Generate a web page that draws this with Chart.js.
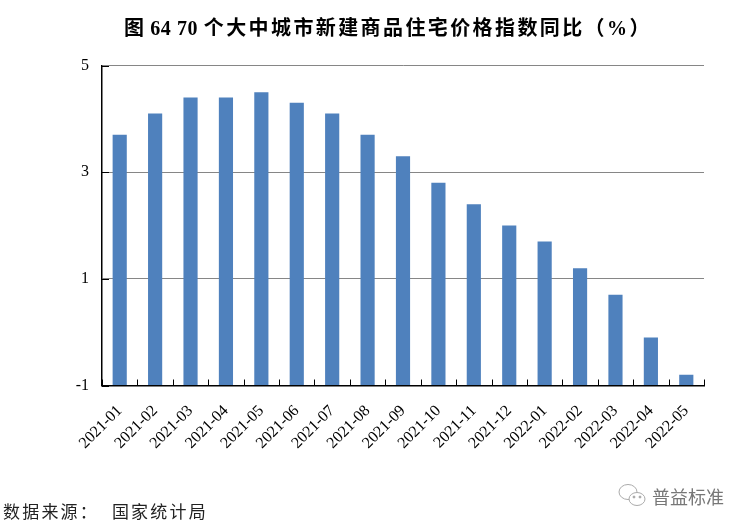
<!DOCTYPE html>
<html lang="zh-CN">
<head>
    <meta charset="UTF-8">
    <title>70个大中城市新建商品住宅价格指数同比</title>
    <script src="https://cdn.jsdelivr.net/npm/chart.js"></script>
    <style>
        html, body { margin: 0; padding: 0; background: #fff; }
        #wrap { position: relative; width: 747px; height: 528px; overflow: hidden; }
        #title { position: absolute; left: 124px; top: 12px; font: bold 20px "Liberation Serif", "Noto Sans CJK SC"; letter-spacing: 2.4px; color: #000; white-space: pre; }
        #title span { letter-spacing: 0.6px; }
        #source { position: absolute; left: 3px; top: 498px; font: 17px "Liberation Serif", "Noto Sans CJK SC"; letter-spacing: 2.2px; color: #222; white-space: pre; }
        #mark { position: absolute; left: 652px; top: 483px; font: 18px "Noto Sans CJK SC"; color: #777; }
        #icon { position: absolute; left: 617px; top: 483px; }
    </style>
</head>
<body>
    <div id="wrap">
        <canvas id="chart" width="747" height="528"></canvas>
        <div id="title"><span>图 64 70 </span>个大中城市新建商品住宅价格指数同比（%）</div>
        <div id="source">数据来源：  国家统计局</div>
        <svg id="icon" width="30" height="26" viewBox="0 0 30 26" fill="none" stroke="#aaa" stroke-width="1">
            <ellipse cx="11" cy="9" rx="9" ry="7.5"/>
            <ellipse cx="20" cy="16" rx="8" ry="6.5" fill="#fff"/>
            <circle cx="17" cy="14" r="1" fill="#999"/>
            <circle cx="23" cy="14" r="1" fill="#999"/>
        </svg>
        <div id="mark">普益标准</div>
    </div>

    <script>
        const categories = ['2021-01', '2021-02', '2021-03', '2021-04', '2021-05', '2021-06', '2021-07', '2021-08', '2021-09',
            '2021-10', '2021-11', '2021-12', '2022-01', '2022-02', '2022-03', '2022-04', '2022-05'];
        const indexValues = [3.7, 4.1, 4.4, 4.4, 4.5, 4.3, 4.1, 3.7, 3.3, 2.8, 2.4, 2.0, 1.7, 1.2, 0.7, -0.1, -0.8];
        const yTicks = [-1, 1, 3, 5];

        // ticks point into the plot in the original, chart.js only draws them outwards
        const innerTicks = {
            id: 'innerTicks',
            afterDatasetsDraw(chart) {
                const { ctx, scales: { y }, chartArea: area } = chart;
                ctx.save();
                ctx.strokeStyle = '#000';
                ctx.lineWidth = 1;
                ctx.beginPath();
                yTicks.forEach(v => {
                    const py = Math.round(y.getPixelForValue(v)) + 0.5;
                    ctx.moveTo(area.left, py);
                    ctx.lineTo(area.left + 7, py);
                });
                for (let i = 0; i <= categories.length; i++) {
                    const px = Math.round(area.left + (area.right - area.left) * i / categories.length) + 0.5;
                    ctx.moveTo(px, area.bottom);
                    ctx.lineTo(px, area.bottom - 6);
                }
                ctx.stroke();
                ctx.restore();
            }
        };

        new Chart(document.getElementById('chart'), {
            type: 'bar',
            data: {
                labels: categories,
                datasets: [{
                    data: indexValues,
                    base: -1,
                    backgroundColor: '#4f81bd',
                    barPercentage: 0.4,
                    categoryPercentage: 1
                }]
            },
            options: {
                responsive: false,
                animation: false,
                layout: { padding: { left: 0, right: 43, top: 65.5, bottom: 0 } },
                plugins: {
                    legend: { display: false },
                    tooltip: { enabled: false },
                    title: { display: false }
                },
                scales: {
                    x: {
                        afterFit(axis) { axis.height = 142.5; },
                        border: { color: '#000', width: 1.5 },
                        grid: { display: false },
                        ticks: {
                            color: '#000',
                            font: { family: '"Liberation Serif"', size: 16 },
                            minRotation: 45,
                            maxRotation: 45,
                            autoSkip: false,
                            padding: 8
                        }
                    },
                    y: {
                        min: -1,
                        max: 5,
                        afterBuildTicks(axis) { axis.ticks = yTicks.map(v => ({ value: v })); },
                        afterFit(axis) { axis.width = 102; },
                        border: { color: '#000', width: 1.5 },
                        grid: { color: '#868686', lineWidth: 1, drawTicks: false },
                        ticks: {
                            color: '#000',
                            font: { family: '"Liberation Serif"', size: 16 },
                            padding: 13
                        }
                    }
                }
            },
            plugins: [innerTicks]
        });
    </script>
</body>
</html>
